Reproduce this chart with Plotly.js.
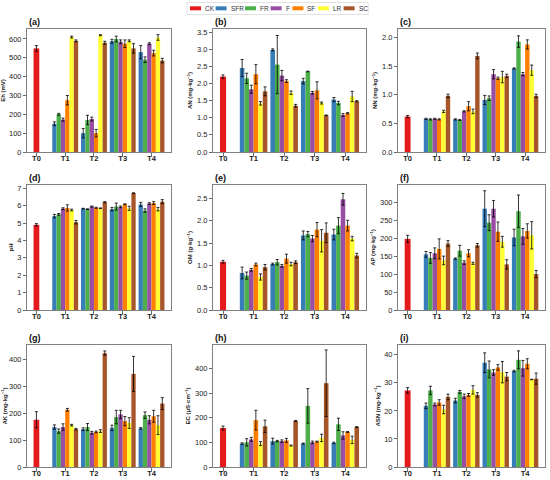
<!DOCTYPE html>
<html>
<head>
<meta charset="utf-8">
<script src="https://cdn.plot.ly/plotly-3.0.1.min.js"></script>
<style>html,body{margin:0;padding:0;background:#fff;}#chart{width:550px;height:480px;}</style>
</head>
<body>
<div id="chart"></div>
<script>
// ---------- data ----------
const treatments = ['T0', 'T1', 'T2', 'T3', 'T4'];
const seriesNames = ['SFR', 'FR', 'F', 'SF', 'LR', 'SC'];
const ckName = 'CK';

// (a) Eh (mV)
const ehCK = [550, 15];
const ehMean = [[150, 100, 588, 530], [200, 170, 600, 490], [172, 175, 585, 575], [275, 100, 575, 525], [610, 620, 590, 608], [590, 580, 550, 485]];
const ehErr = [[10, 25, 10, 35], [5, 25, 15, 15], [8, 10, 10, 5], [25, 20, 20, 15], [5, 3, 5, 15], [5, 8, 25, 12]];

// (b) AN
const anCK = [2.2, 0.05];
const anMean = [[2.45, 2.98, 2.07, 1.53], [2.15, 2.55, 2.35, 1.43], [1.83, 2.23, 1.73, 1.08], [2.27, 2.07, 1.80, 1.13], [1.42, 1.73, 1.43, 1.62], [1.77, 1.35, 1.07, 1.48]];
const anErr = [[0.25, 0.03, 0.08, 0.06], [0.15, 0.85, 0.01, 0.05], [0.12, 0.15, 0.04, 0.04], [0.28, 0.04, 0.25, 0.02], [0.05, 0.05, 0.03, 0.15], [0.13, 0.04, 0.01, 0.02]];

// (c) NN
const nnCK = [0.62, 0.02];
const nnMean = [[0.58, 0.57, 0.91, 1.46], [0.57, 0.56, 0.94, 1.93], [0.58, 0.71, 1.36, 1.36], [0.57, 0.80, 1.29, 1.88], [0.71, 0.71, 1.31, 1.43], [0.98, 1.68, 1.33, 0.98]];
const nnErr = [[0.01, 0.01, 0.08, 0.01], [0.01, 0.01, 0.04, 0.10], [0.01, 0.01, 0.08, 0.03], [0.01, 0.08, 0.02, 0.08], [0.02, 0.04, 0.10, 0.09], [0.03, 0.05, 0.03, 0.03]];

// (d) pH
const phCK = [4.9, 0.07];
const phMean = [[5.40, 5.83, 5.80, 6.07], [5.50, 5.80, 5.95, 5.72], [5.83, 5.95, 5.93, 6.12], [5.87, 5.88, 6.08, 6.15], [5.75, 5.85, 5.85, 5.80], [5.05, 6.20, 6.72, 6.23]];
const phErr = [[0.10, 0.02, 0.10, 0.12], [0.05, 0.02, 0.20, 0.10], [0.05, 0.03, 0.05, 0.05], [0.18, 0.03, 0.03, 0.08], [0.05, 0.02, 0.12, 0.10], [0.10, 0.03, 0.02, 0.12]];

// (e) OM
const omCK = [1.08, 0.03];
const omMean = [[0.83, 1.03, 1.67, 1.69], [0.77, 1.07, 1.70, 1.89], [0.90, 0.99, 1.60, 2.48], [1.02, 1.15, 1.80, 1.89], [0.74, 1.03, 1.55, 1.60], [0.96, 1.07, 1.73, 1.22]];
const omErr = [[0.13, 0.02, 0.10, 0.12], [0.08, 0.06, 0.06, 0.18], [0.03, 0.03, 0.07, 0.13], [0.03, 0.10, 0.16, 0.12], [0.07, 0.04, 0.25, 0.05], [0.06, 0.03, 0.22, 0.05]];

// (f) AP
const apCK = [198, 10];
const apMean = [[155, 143, 282, 202], [145, 165, 243, 275], [158, 132, 282, 205], [170, 158, 218, 220], [138, 130, 190, 208], [185, 180, 127, 100]];
const apErr = [[8, 2, 50, 23], [15, 15, 22, 45], [15, 5, 23, 22], [28, 10, 27, 20], [12, 3, 15, 38], [8, 5, 13, 10]];

// (g) AK
const akCK = [175, 30];
const akMean = [[148, 140, 145, 143], [133, 148, 185, 192], [148, 127, 195, 175], [212, 130, 170, 188], [155, 133, 163, 155], [140, 422, 345, 235]];
const akErr = [[8, 5, 10, 3], [8, 13, 25, 12], [12, 5, 15, 15], [5, 3, 17, 22], [3, 5, 20, 35], [3, 8, 65, 22]];

// (h) EC
const ecCK = [158, 8];
const ecMean = [[95, 105, 95, 98], [100, 105, 248, 173], [112, 105, 100, 128], [190, 108, 103, 142], [95, 87, 118, 110], [165, 187, 340, 162]];
const ecErr = [[3, 12, 2, 3], [15, 3, 70, 25], [8, 5, 5, 15], [40, 8, 2, 2], [8, 2, 15, 15], [25, 2, 135, 2]];

// (i) ASN
const asnCK = [27.3, 1.0];
const asnMean = [[21.8, 23.7, 37.2, 34.2], [27.3, 26.8, 34.8, 38.2], [22.3, 25.2, 33.7, 35.2], [23.0, 25.7, 35.5, 36.8], [20.5, 27.5, 33.8, 31.2], [25.0, 25.7, 32.2, 31.5]];
const asnErr = [[1.0, 0.8, 3.5, 0.3], [1.5, 0.5, 3.0, 3.2], [0.5, 0.8, 1.0, 2.8], [1.0, 0.5, 1.0, 1.8], [1.5, 1.5, 3.8, 0.1], [1.0, 0.8, 1.5, 2.0]];

// ---------- style ----------
const ckColor = '#e41a1c';
const seriesColors = ['#377eb8', '#4daf4a', '#984ea3', '#ff7f00', '#ffff33', '#a65628'];
const FONT = 'Liberation Sans, Arial, sans-serif';
const W = 550, H = 480;

const panels = [
  {lab: '(a)', title: 'Eh (mV)', ck: ehCK, mean: ehMean, err: ehErr, top: 653, dtick: 100, fmt: 'd'},
  {lab: '(b)', title: 'AN (mg·kg<sup>−1</sup>)', ck: anCK, mean: anMean, err: anErr, top: 3.59, dtick: 0.5, fmt: '.1f'},
  {lab: '(c)', title: 'NN (mg·kg<sup>−1</sup>)', ck: nnCK, mean: nnMean, err: nnErr, top: 2.15, dtick: 0.5, fmt: '.1f'},
  {lab: '(d)', title: 'pH', ck: phCK, mean: phMean, err: phErr, top: 7.19, dtick: 1, fmt: 'd'},
  {lab: '(e)', title: 'OM (g·kg<sup>−1</sup>)', ck: omCK, mean: omMean, err: omErr, top: 2.80, dtick: 0.5, fmt: '.1f'},
  {lab: '(f)', title: 'AP (mg·kg<sup>−1</sup>)', ck: apCK, mean: apMean, err: apErr, top: 348, dtick: 50, fmt: 'd'},
  {lab: '(g)', title: 'AK (mg·kg<sup>−1</sup>)', ck: akCK, mean: akMean, err: akErr, top: 452, dtick: 100, fmt: 'd'},
  {lab: '(h)', title: 'EC (μS·cm<sup>−1</sup>)', ck: ecCK, mean: ecMean, err: ecErr, top: 495, dtick: 100, fmt: 'd'},
  {lab: '(i)', title: 'ASN (mg·kg<sup>−1</sup>)', ck: asnCK, mean: asnMean, err: asnErr, top: 43.5, dtick: 10, fmt: 'd'}
];

// frame positions in px
const cols = [[27, 171], [213, 366], [398, 545]];
const rows = [[29, 152], [185, 310], [345, 467]];

const traces = [];
const layout = {
  width: W, height: H,
  margin: {l: 0, r: 0, t: 0, b: 0},
  paper_bgcolor: '#fff', plot_bgcolor: '#fff',
  showlegend: false,
  barmode: 'overlay',
  font: {family: FONT, color: '#222', size: 7.5},
  annotations: [], shapes: []
};

const barW = 0.15, ckW = 0.2;
const errStyle = {color: '#000', thickness: 0.8, width: 1.5};

panels.forEach((p, k) => {
  const n = k + 1;
  const xa = 'x' + (n === 1 ? '' : n), ya = 'y' + (n === 1 ? '' : n);
  const c = cols[k % 3], r = rows[Math.floor(k / 3)];
  layout['xaxis' + (n === 1 ? '' : n)] = {
    domain: [c[0] / W, c[1] / W], anchor: ya,
    range: [-0.3275, 4.6775],
    tickvals: [0, 1, 2, 3, 4], ticktext: treatments.map(t => '<b>' + t + '</b>'),
    ticks: 'outside', ticklen: 3, tickwidth: 0.8, tickcolor: '#444',
    ticklabelstandoff: -4,
    tickfont: {size: 7.5, color: '#222'},
    showline: true, mirror: true, linecolor: '#808080', linewidth: 1,
    showgrid: false, zeroline: false, fixedrange: true
  };
  layout['yaxis' + (n === 1 ? '' : n)] = {
    domain: [1 - r[1] / H, 1 - r[0] / H], anchor: xa,
    range: [0, p.top], dtick: p.dtick, tick0: 0, tickformat: p.fmt,
    ticks: 'outside', ticklen: 3, tickwidth: 0.8, tickcolor: '#444',
    tickfont: {size: 7.5, color: '#222'},
    showline: true, mirror: true, linecolor: '#808080', linewidth: 1,
    showgrid: false, zeroline: false, fixedrange: true,
    title: {text: '<b>' + p.title + '</b>', font: {size: 6, color: '#222'}, standoff: 3}
  };
  layout.annotations.push({
    text: '<b>' + p.lab + '</b>', xref: xa + ' domain', yref: ya + ' domain',
    x: 0, y: 1, xanchor: 'left', yanchor: 'bottom', yshift: 0, showarrow: false,
    font: {size: 9, color: '#111'}
  });
  traces.push({
    type: 'bar', name: ckName, x: [0], y: [p.ck[0]], width: ckW, offset: -ckW / 2,
    marker: {color: ckColor, line: {width: 0}},
    error_y: Object.assign({type: 'data', array: [p.ck[1]], visible: true}, errStyle),
    xaxis: xa, yaxis: ya, hoverinfo: 'y'
  });
  seriesNames.forEach((s, i) => {
    traces.push({
      type: 'bar', name: s, x: [1, 2, 3, 4], y: p.mean[i],
      width: barW, offset: -3 * barW + i * barW,
      marker: {color: seriesColors[i], line: {width: 0}},
      error_y: Object.assign({type: 'data', array: p.err[i], visible: true}, errStyle),
      xaxis: xa, yaxis: ya, hoverinfo: 'y'
    });
  });
});

// ---------- manual legend (top centre) ----------
const legNames = [ckName].concat(seriesNames);
const legColors = [ckColor].concat(seriesColors);
let cx = 190;
const legY = 8.3, charW = 3.8;
const legStart = cx;
legNames.forEach((nm, i) => {
  layout.shapes.push({
    type: 'rect', xref: 'paper', yref: 'paper',
    x0: cx / W, x1: (cx + 11) / W, y0: 1 - (legY + 2) / H, y1: 1 - (legY - 2) / H,
    fillcolor: legColors[i], line: {width: 0}
  });
  layout.annotations.push({
    text: nm, xref: 'paper', yref: 'paper', x: (cx + 13) / W, y: 1 - legY / H,
    xanchor: 'left', yanchor: 'middle', showarrow: false,
    font: {size: 6.5, color: '#333'}
  });
  cx += 13 + nm.length * charW + 5;
});
layout.shapes.push({
  type: 'rect', xref: 'paper', yref: 'paper',
  x0: (legStart - 3) / W, x1: (cx - 1) / W, y0: 1 - 14.5 / H, y1: 1 - 2.5 / H,
  fillcolor: 'rgba(0,0,0,0)', line: {color: '#d9d9d9', width: 0.8}
});

Plotly.newPlot('chart', traces, layout, {displayModeBar: false, staticPlot: true});
</script>
</body>
</html>
